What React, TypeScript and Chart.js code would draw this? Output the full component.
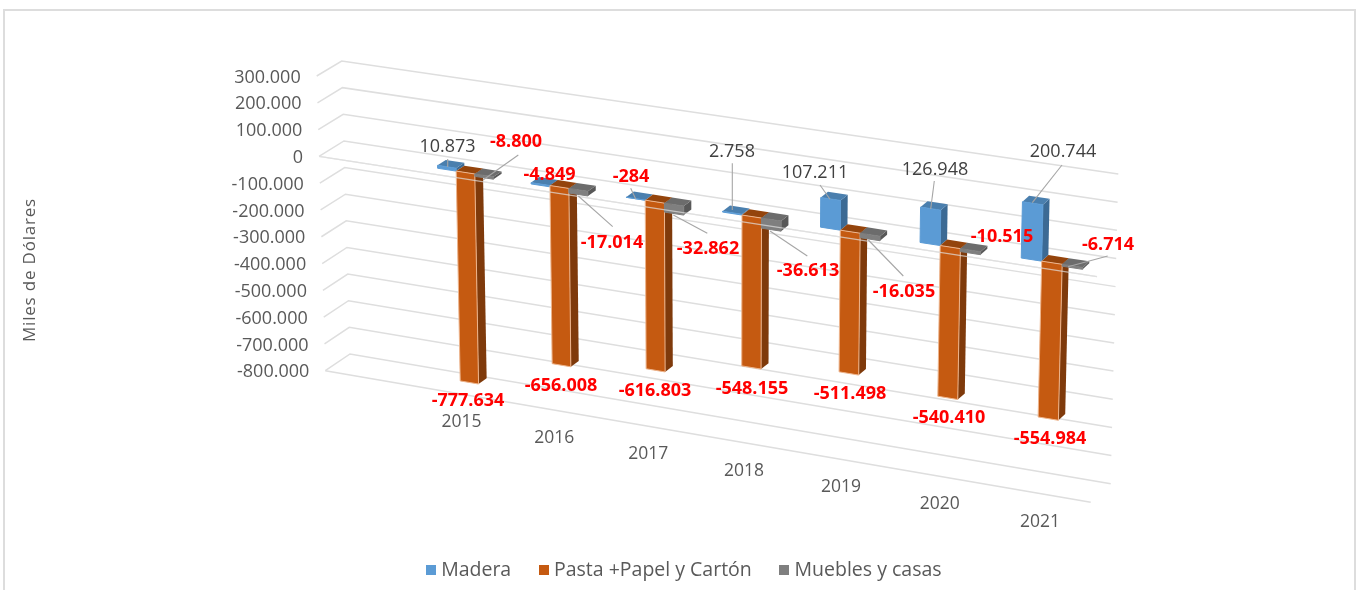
import React, { useEffect, useRef } from "react";
import { Chart, registerables } from "chart.js";

Chart.register(...registerables);

const categories = ["2015", "2016", "2017", "2018", "2019", "2020", "2021"];
const madera = [10873, -4849, -284, 2758, 107211, 126948, 200744];
const pasta = [-777634, -656008, -616803, -548155, -511498, -540410, -554984];
const muebles = [-8800, -17014, -32862, -36613, -16035, -10515, -6714];
const seriesNames = ["Madera", "Pasta +Papel y Cartón", "Muebles y casas"];
const axisTitle = "Miles de Dólares";

const FONT = "'Open Sans', sans-serif";

// The 3D box of the plot: four corners of the front plane and of the back wall.
const FRONT = { tl: [316.7, 76], tr: [1099.4, 192], bl: [325.3, 370.7], br: [1090.7, 502.3] };
const BACK = { tl: [341.7, 61], tr: [1118.3, 174], bl: [350, 354], br: [1110.7, 483.7] };
const BAR_DEPTH = [0.33, 0.67];
const LEAD_BAND = 1 / 8; // an empty slot before the first category
const PERSPECTIVE = 1.065;

const FACES = [
  { top: "#4A7FAE", side: "#3C6A94" },
  { top: "#94440C", side: "#7F3A0B" },
  { top: "#6C6C6C", side: "#585858" },
];

// Label anchors [series][category] = [cx, cy, leaderFromX, leaderFromY, leaderToX, leaderToY]
const LABELS: number[][][] = [
  [
    [447.5, 146.5, 447.7, 159, 447.7, 167],
    [549.5, 175],
    [631, 177, 630.7, 188.3, 635.7, 199],
    [732, 151.5, 732.3, 163.3, 732.3, 210],
    [815, 172.5, 820, 185, 830, 199.3],
    [935, 169.5, 934.3, 181, 930.7, 209],
    [1063, 151.5, 1062, 165, 1032.3, 202.7],
  ],
  [
    [468, 401],
    [561, 385.5],
    [655, 390.5],
    [752, 388.5],
    [850, 394],
    [949, 418],
    [1050, 438.5],
  ],
  [
    [516, 142, 518.3, 155, 483, 180],
    [612, 243, 612.7, 226.7, 578.3, 196],
    [708, 249, 707.3, 233.3, 673.3, 215],
    [808, 270.5, 807.3, 256, 770, 231],
    [904, 292, 903.3, 276, 868.3, 240],
    [1002, 237],
    [1108, 244.5, 1107.7, 256, 1068, 266.7],
  ],
];

const mix = (a: number[], b: number[], f: number) => [a[0] + (b[0] - a[0]) * f, a[1] + (b[1] - a[1]) * f];

function project(u: number, v: number, w: number) {
  const front = mix(mix(FRONT.tl, FRONT.bl, v), mix(FRONT.tr, FRONT.br, v), u);
  const back = mix(mix(BACK.tl, BACK.bl, v), mix(BACK.tr, BACK.br, v), u);
  return mix(front, back, w);
}

const formatValue = (n: number) => {
  const abs = Math.abs(Math.round(n)).toString().replace(/\B(?=(\d{3})+(?!\d))/g, ".");
  return (n < 0 ? "-" : "") + abs;
};

function poly(ctx: CanvasRenderingContext2D, pts: number[][], fill?: string, stroke?: string, lw = 1) {
  ctx.beginPath();
  pts.forEach((p, i) => (i ? ctx.lineTo(p[0], p[1]) : ctx.moveTo(p[0], p[1])));
  if (fill) {
    ctx.closePath();
    ctx.fillStyle = fill;
    ctx.fill();
  }
  if (stroke) {
    ctx.strokeStyle = stroke;
    ctx.lineWidth = lw;
    ctx.stroke();
  }
}

const box3d = {
  id: "box3d",
  beforeDatasetsDraw(chart: any) {
    const ctx: CanvasRenderingContext2D = chart.ctx;
    const area = chart.chartArea;
    const yScale = chart.scales.y;
    const vOf = (py: number) => (py - area.top) / (area.bottom - area.top);
    const uOf = (px: number) => {
      const t = LEAD_BAND + (1 - LEAD_BAND) * ((px - area.left) / (area.right - area.left));
      return t / (PERSPECTIVE - (PERSPECTIVE - 1) * t);
    };
    const GRID = "#DEDEDE";
    ctx.save();

    // walls and floors
    yScale.ticks.forEach((tick: any) => {
      const v = vOf(yScale.getPixelForValue(tick.value));
      poly(ctx, [project(0, v, 0), project(0, v, 1), project(1, v, 1)], undefined, GRID, 1.5);
    });
    const vZero = vOf(yScale.getPixelForValue(0));
    const vMin = vOf(yScale.getPixelForValue(yScale.min));
    poly(ctx, [project(0, vMin, 0), project(1, vMin, 0)], undefined, GRID, 1.5);
    poly(ctx, [project(0, vZero, 0), project(1, vZero, 0)], undefined, GRID, 1.5);

    // bars, category by category
    const [w0, w1] = BAR_DEPTH;
    categories.forEach((_, c) => {
      chart.data.datasets.forEach((ds: any, s: number) => {
        const el = chart.getDatasetMeta(s).data[c];
        const uL = uOf(el.x - el.width / 2);
        const uR = uOf(el.x + el.width / 2);
        const vT = vOf(Math.min(el.y, el.base));
        const vB = vOf(Math.max(el.y, el.base));
        poly(ctx, [project(uR, vT, w0), project(uR, vT, w1), project(uR, vB, w1), project(uR, vB, w0)], FACES[s].side);
        poly(ctx, [project(uL, vT, w0), project(uL, vT, w1), project(uR, vT, w1), project(uR, vT, w0)], FACES[s].top);
        poly(
          ctx,
          [project(uL, vT, w0), project(uR, vT, w0), project(uR, vB, w0), project(uL, vB, w0)],
          ds.backgroundColor,
          ds.borderColor,
          1
        );
      });
    });

    // the front edge of the zero plane passes over the bars
    poly(ctx, [project(0, vZero, 0), project(1, vZero, 0)], undefined, "rgba(225,225,225,0.7)", 1.3);

    // axis labels
    ctx.textBaseline = "middle";
    ctx.textAlign = "right";
    ctx.fillStyle = "#595959";
    ctx.font = `18px ${FONT}`;
    yScale.ticks.forEach((tick: any) => {
      const p = project(0, vOf(yScale.getPixelForValue(tick.value)), 0);
      ctx.fillText(tick.label, p[0] - 16, p[1] + 1.5);
    });
    ctx.textAlign = "center";
    ctx.font = `17.5px ${FONT}`;
    categories.forEach((label, c) => {
      const el = chart.getDatasetMeta(1).data[c];
      const p = project(uOf(el.x), vMin, 0);
      ctx.fillText(label, p[0], p[1] + 28);
    });
    ctx.save();
    ctx.translate(30, 270);
    ctx.rotate(-Math.PI / 2);
    ctx.font = `17px ${FONT}`;
    (ctx as any).letterSpacing = "0.8px";
    ctx.fillText(axisTitle, 0, 0);
    ctx.restore();

    // data labels and leader lines
    chart.data.datasets.forEach((ds: any, s: number) => {
      ds.data.forEach((val: number, c: number) => {
        const l = LABELS[s][c];
        if (l.length > 2) {
          poly(ctx, [[l[2], l[3]], [l[4], l[5]]], undefined, "#A6A6A6", 1.1);
        }
        ctx.fillStyle = val < 0 ? "#FF0000" : "#404040";
        ctx.font = val < 0 ? `bold 18px ${FONT}` : `18px ${FONT}`;
        ctx.fillText(formatValue(val), l[0], l[1]);
      });
    });

    ctx.restore();
    return false;
  },
};

function swatch(color: string) {
  const c = document.createElement("canvas");
  c.width = 10;
  c.height = 10;
  const g = c.getContext("2d")!;
  g.fillStyle = color;
  g.fillRect(0, 0, 10, 10);
  return c;
}

export default function App() {
  const ref = useRef<HTMLCanvasElement>(null);
  useEffect(() => {
    const chart = new Chart(ref.current!, {
      type: "bar",
      data: {
        labels: categories,
        datasets: [
          { label: seriesNames[0], data: madera, backgroundColor: "#5B9BD5", borderColor: "#5B9BD5" },
          { label: seriesNames[1], data: pasta, backgroundColor: "#C55A11", borderColor: "#EDB48C" },
          { label: seriesNames[2], data: muebles, backgroundColor: "#7F7F7F", borderColor: "#7F7F7F" },
        ],
      },
      options: {
        animation: false,
        responsive: false,
        layout: { padding: { bottom: 0, left: 10 } },
        datasets: { bar: { categoryPercentage: 0.6, barPercentage: 1 } },
        scales: {
          x: { display: false },
          y: {
            display: false,
            min: -800000,
            max: 300000,
            ticks: { stepSize: 100000, callback: (v: any) => formatValue(Number(v)) },
          },
        },
        plugins: {
          tooltip: { enabled: false },
          legend: {
            position: "bottom",
            labels: {
              usePointStyle: true,
              boxWidth: 1,
              boxHeight: 10,
              padding: 32,
              color: "#595959",
              font: { family: FONT, size: 19.5 },
              generateLabels: (c: any) =>
                c.data.datasets.map((d: any, i: number) => ({
                  text: d.label,
                  pointStyle: swatch(d.backgroundColor),
                  fillStyle: d.backgroundColor,
                  strokeStyle: d.backgroundColor,
                  lineWidth: 0,
                  fontColor: "#595959",
                  datasetIndex: i,
                })),
            },
          },
        },
      } as any,
      plugins: [box3d as any],
    });
    return () => chart.destroy();
  }, []);
  return (
    <div style={{ position: "fixed", left: 0, top: 0, width: 1362, height: 590, background: "#fff", overflow: "hidden" }}>
      <div
        style={{
          position: "absolute",
          left: 3,
          top: 9,
          width: 1353,
          height: 600,
          border: "2px solid #DDDDDD",
          boxSizing: "border-box",
        }}
      />
      <canvas ref={ref} width={1362} height={590} style={{ position: "absolute", left: 0, top: 0 }} />
    </div>
  );
}
